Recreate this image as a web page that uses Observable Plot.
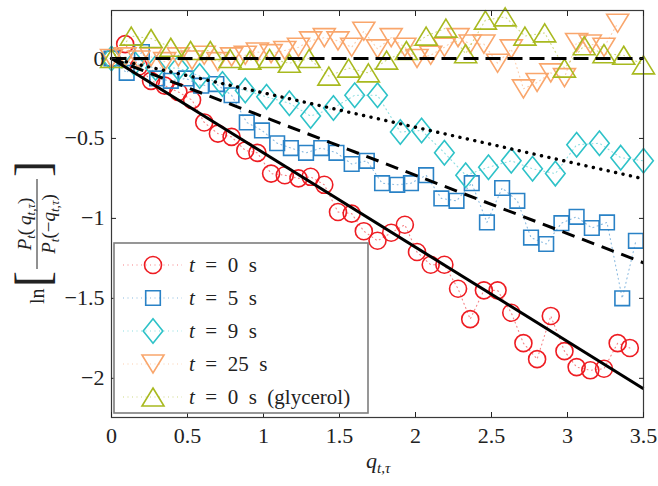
<!DOCTYPE html>
<html>
<head>
<meta charset="utf-8">
<script src="https://cdn.jsdelivr.net/npm/d3@7"></script>
<script src="https://cdn.jsdelivr.net/npm/@observablehq/plot@0.6"></script>
<style>
  body { margin: 0; background: #fff; }
  #chart { width: 658px; height: 486px; }
</style>
</head>
<body>
<div id="chart"></div>
<script>
// ---------- data ----------
const xTicks = [0, 0.5, 1, 1.5, 2, 2.5, 3, 3.5];
const yTicks = [0, -0.5, -1, -1.5, -2];

const seriesNames = ["t = 0 s", "t = 5 s", "t = 9 s", "t = 25 s", "t = 0 s (glycerol)"];
const seriesColors = ["#ee1c22", "#2a82c6", "#2ec2c8", "#f9a66c", "#a8b91f"];

// t = 0 s
const q0 = [0, 0.09, 0.18, 0.26, 0.35, 0.44, 0.53, 0.61, 0.70, 0.79, 0.88, 0.96, 1.05, 1.14, 1.23, 1.31, 1.40, 1.49, 1.58, 1.66,
            1.75, 1.84, 1.93, 2.01, 2.10, 2.19, 2.28, 2.36, 2.45, 2.54, 2.63, 2.71, 2.80, 2.89, 2.98, 3.06, 3.15, 3.24, 3.33, 3.41];
const lr0 = [0, 0.09, -0.05, -0.14, -0.17, -0.21, -0.26, -0.40, -0.47, -0.49, -0.575, -0.59, -0.72, -0.73, -0.75, -0.74, -0.79, -0.96, -0.97, -1.08,
             -1.14, -1.09, -1.04, -1.21, -1.29, -1.29, -1.44, -1.63, -1.45, -1.45, -1.59, -1.78, -1.88, -1.61, -1.83, -1.93, -1.95, -1.94, -1.78, -1.81];

// t = 5 s
const q5 = [0, 0.10, 0.20, 0.30, 0.39, 0.49, 0.59, 0.69, 0.79, 0.89, 0.99, 1.09, 1.18, 1.28, 1.38, 1.48, 1.58, 1.68,
            1.78, 1.88, 1.97, 2.07, 2.17, 2.27, 2.37, 2.47, 2.57, 2.67, 2.76, 2.86, 2.96, 3.06, 3.16, 3.26, 3.36, 3.45];
const lr5 = [0, -0.09, 0.04, -0.125, -0.14, -0.125, -0.17, -0.16, -0.23, -0.40, -0.45, -0.53, -0.56, -0.59, -0.56, -0.59, -0.66, -0.64,
             -0.78, -0.79, -0.78, -0.73, -0.875, -0.89, -0.78, -1.025, -0.81, -0.89, -1.12, -1.16, -1.03, -0.99, -1.06, -1.025, -1.50, -1.14];

// t = 9 s
const q9 = [0, 0.15, 0.29, 0.44, 0.58, 0.73, 0.88, 1.02, 1.17, 1.31, 1.46, 1.60, 1.75,
            1.90, 2.04, 2.19, 2.33, 2.48, 2.63, 2.77, 2.92, 3.06, 3.21, 3.35, 3.50];
const lr9 = [0, -0.03, -0.06, -0.06, -0.11, -0.16, -0.20, -0.24, -0.28, -0.36, -0.31, -0.23, -0.23,
             -0.46, -0.45, -0.59, -0.73, -0.68, -0.64, -0.69, -0.72, -0.54, -0.53, -0.62, -0.64];

// t = 25 s
const q25 = [0, 0.09, 0.18, 0.26, 0.35, 0.44, 0.53, 0.61, 0.70, 0.79, 0.88, 0.96, 1.05, 1.14, 1.23, 1.31, 1.40, 1.49, 1.58, 1.66,
             1.75, 1.84, 1.93, 2.01, 2.10, 2.19, 2.28, 2.36, 2.45, 2.54, 2.63, 2.71, 2.80, 2.89, 2.98, 3.06, 3.15, 3.24, 3.33];
const lr25 = [0, 0.01, -0.01, 0.01, -0.02, 0.01, -0.01, 0.02, -0.02, 0.01, 0.02, 0.04, 0.03, 0.05, 0.07, 0.11, 0.13, 0.11, 0.07, 0.17,
              0.06, 0.13, 0.07, 0.0, 0.02, 0.07, 0.13, 0.09, 0.09, -0.03, 0.06, -0.19, -0.15, -0.09, -0.12, 0.10, 0.09, 0.07, 0.22];

// t = 0 s (glycerol)
const qGly = [0, 0.13, 0.26, 0.39, 0.52, 0.65, 0.78, 0.91, 1.04, 1.17, 1.30, 1.43, 1.56, 1.69,
              1.81, 1.94, 2.07, 2.20, 2.33, 2.46, 2.59, 2.72, 2.85, 2.98, 3.11, 3.24, 3.37, 3.50];
const lrGly = [0, 0.14, 0.125, 0.07, 0.05, 0.05, 0.0, -0.01, 0.0, -0.03, 0.0, -0.11, -0.06, -0.09,
               -0.01, 0.05, 0.14, 0.19, 0.03, 0.24, 0.26, 0.14, 0.16, -0.06, 0.08, 0.03, 0.02, -0.04];

// fitted straight lines through the origin
const fitSlopes = [-0.59, -0.365, -0.215, 0];
const fitDash = [null, "13,8", "0.1,7.5", "15,7"];
const fitRange = [0, 3.5];

// ---------- marker shapes ----------
const rad = s => Math.sqrt(s / Math.PI);
const symCircle = {draw(c, s) { const r = rad(s); c.moveTo(r, 0); c.arc(0, 0, r, 0, 2 * Math.PI); c.closePath(); }};
const symSquare = {draw(c, s) { const r = rad(s); c.moveTo(-r, -r); c.lineTo(r, -r); c.lineTo(r, r); c.lineTo(-r, r); c.closePath(); }};
const symDiamond = {draw(c, s) { const r = rad(s); c.moveTo(0, -1.25 * r); c.lineTo(r, 0); c.lineTo(0, 1.25 * r); c.lineTo(-r, 0); c.closePath(); }};
const symDown = {draw(c, s) { const r = rad(s); c.moveTo(-r, -0.82 * r); c.lineTo(r, -0.82 * r); c.lineTo(0, 0.82 * r); c.closePath(); }};
const symUp = {draw(c, s) { const r = rad(s); c.moveTo(0, -0.82 * r); c.lineTo(r, 0.82 * r); c.lineTo(-r, 0.82 * r); c.closePath(); }};

const seriesSymbols = [symCircle, symSquare, symDiamond, symDown, symUp];
const seriesR = [8.5, 7.3, 9.8, 11, 11];
const seriesQ = [q0, q5, q9, q25, qGly];
const seriesLR = [lr0, lr5, lr9, lr25, lrGly];

const series = seriesNames.map((name, i) =>
  seriesQ[i].map((q, j) => ({q, lr: seriesLR[i][j]})));

const fits = fitSlopes.map(s => fitRange.map(q => ({q, lr: s * q})));

const serif = "Liberation Serif, Times New Roman, serif";
const ink = "#222";
const tickFmt = v => String(v).replace("-", "\u2212");

const marks = [];
// faint dotted joins between consecutive points
series.forEach((d, i) => marks.push(Plot.line(d, {
  x: "q", y: "lr", stroke: seriesColors[i], strokeWidth: 1.1,
  strokeDasharray: "1,3.5", strokeOpacity: 0.55
})));
series.forEach((d, i) => marks.push(Plot.dot(d, {
  x: "q", y: "lr", symbol: seriesSymbols[i], r: seriesR[i],
  stroke: seriesColors[i], strokeWidth: 1.6, fill: "none"
})));
fits.forEach((d, i) => marks.push(Plot.line(d, {
  x: "q", y: "lr", stroke: "#000", strokeWidth: i === 2 ? 3.4 : 3,
  strokeDasharray: fitDash[i], strokeLinecap: i === 2 ? "round" : "butt"
})));

const plot = Plot.plot({
  width: 658, height: 486,
  marginLeft: 111, marginRight: 15, marginTop: 10, marginBottom: 69,
  x: {domain: [0, 3.5]},
  y: {domain: [-2.245, 0.3]},
  style: {fontFamily: serif, fontSize: "22px", color: ink, background: "#fff", overflow: "visible"},
  marks: [
    ...marks,
    Plot.frame({stroke: "#3a3a3a", strokeWidth: 1.2}),
    Plot.axisX({ticks: xTicks, tickSize: -5, tickPadding: 15, label: null, fontSize: 22, tickFormat: tickFmt}),
    Plot.axisX({anchor: "top", ticks: xTicks, tickSize: -5, tickFormat: () => "", label: null}),
    Plot.axisY({ticks: yTicks, tickSize: -5, tickPadding: 12, label: null, fontSize: 22, tickFormat: tickFmt}),
    Plot.axisY({anchor: "right", ticks: yTicks, tickSize: -5, tickFormat: () => "", label: null})
  ]
});
document.getElementById("chart").appendChild(plot);

const svg = d3.select(plot);

// ---------- legend ----------
const legX = 114, legY = 243, legW = 254, legH = 170, rowH = 33;
const leg = svg.append("g").attr("font-family", serif).attr("fill", ink).attr("text-anchor", "start");
leg.append("rect").attr("x", legX).attr("y", legY).attr("width", legW).attr("height", legH)
  .attr("fill", "#fff").attr("stroke", "#7d7d7d").attr("stroke-width", 1.6);
seriesNames.forEach((name, i) => {
  const cy = legY + 22 + i * rowH;
  leg.append("line").attr("x1", 123).attr("x2", 182).attr("y1", cy).attr("y2", cy)
    .attr("stroke", seriesColors[i]).attr("stroke-width", 1.1)
    .attr("stroke-dasharray", "1,3.5").attr("stroke-opacity", 0.55);
  const r = seriesR[i];
  leg.append("path").attr("d", d3.symbol(seriesSymbols[i], Math.PI * r * r)())
    .attr("transform", `translate(153,${cy})`)
    .attr("fill", "none").attr("stroke", seriesColors[i]).attr("stroke-width", 1.6);
  const t = leg.append("text").attr("x", 189).attr("y", cy + 7).attr("font-size", 21);
  t.append("tspan").attr("font-style", "italic").text(name.slice(0, 1));
  t.append("tspan").text(name.slice(1).replace(/ /g, "\u2002"));
});

// ---------- axis titles ----------
const xl = svg.append("text").attr("x", 366).attr("y", 468).attr("font-family", serif)
  .attr("text-anchor", "start").attr("font-size", 22).attr("fill", ink).attr("font-style", "italic");
xl.append("tspan").text("q");
xl.append("tspan").attr("font-size", 15).attr("dy", 5).text("t,\u03c4");

const yl = svg.append("g").attr("transform", "translate(37,224) rotate(-90)")
  .attr("font-family", serif).attr("fill", ink).attr("text-anchor", "start");
yl.append("text").attr("x", -80).attr("y", 7).attr("font-size", 20).text("ln");
yl.append("text").attr("x", -63).attr("y", 11).attr("font-size", 48).text("[");
yl.append("text").attr("x", 47).attr("y", 11).attr("font-size", 48).text("]");
yl.append("line").attr("x1", -45).attr("x2", 45).attr("y1", 0).attr("y2", 0)
  .attr("stroke", ink).attr("stroke-width", 1);

function fracPart(y, minus) {
  const t = yl.append("text").attr("x", 0).attr("y", y).attr("text-anchor", "middle").attr("font-size", 19);
  t.append("tspan").attr("font-style", "italic").text("P");
  t.append("tspan").attr("font-style", "italic").attr("font-size", 13).attr("dy", 4).text("t");
  t.append("tspan").attr("dy", -4).text(minus ? "(\u2212" : "(\u2009");
  t.append("tspan").attr("font-style", "italic").text("q");
  t.append("tspan").attr("font-style", "italic").attr("font-size", 13).attr("dy", 4).text("t,\u03c4");
  t.append("tspan").attr("dy", -4).text(")");
}
fracPart(-6, false);
fracPart(18, true);
</script>
</body>
</html>
